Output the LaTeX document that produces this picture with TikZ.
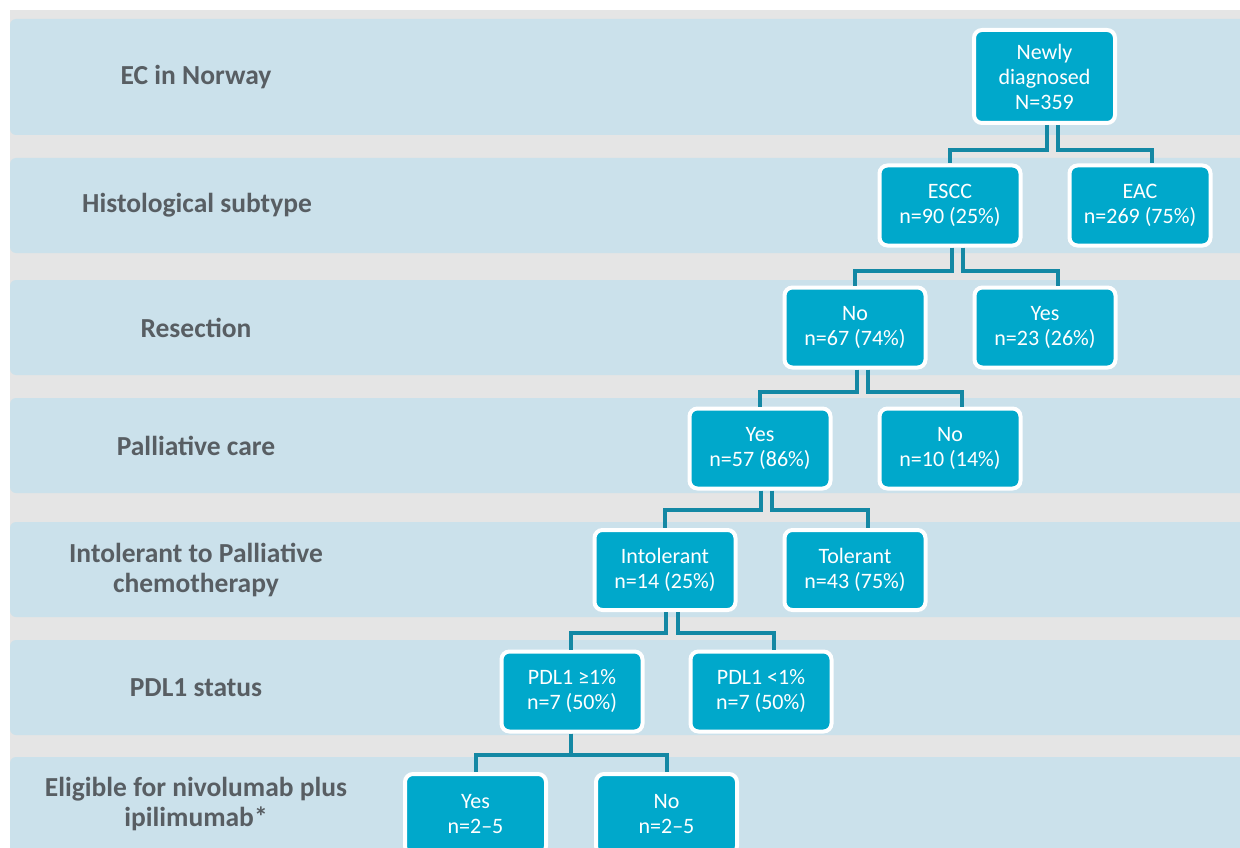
\documentclass[tikz,border=0pt]{standalone}
\usepackage{fontspec}
\setmainfont{Carlito}
\usetikzlibrary{calc}
\definecolor{rowblue}{RGB}{203,225,235}
\definecolor{bandgray}{RGB}{229,229,229}
\definecolor{boxteal}{RGB}{0,168,203}
\definecolor{linkteal}{RGB}{20,136,164}
\definecolor{labelgray}{RGB}{88,94,99}
\begin{document}
\begin{tikzpicture}[x=1pt,y=-1pt,
  row/.style={fill=rowblue, rounded corners=6pt},
  rowlabel/.style={text=labelgray, font=\fontsize{27.5}{30}\selectfont\bfseries, align=center},
  stagebox/.style={draw=white, line width=4pt, fill=boxteal, rounded corners=8pt,
    text=white, font=\fontsize{22}{25}\selectfont, align=center,
    minimum width=141pt, minimum height=80pt, inner sep=0pt},
  link/.style={draw=linkteal, line width=4pt}
]
\useasboundingbox (0,0) rectangle (1240,848);
\fill[white] (0,0) rectangle (1240,848);
\fill[bandgray] (10,10) rectangle (1240,848);

% one band per stage of the flow
\fill[row] (10,19)  rectangle (1262,135);
\fill[row] (10,158) rectangle (1262,253);
\fill[row] (10,280) rectangle (1262,375);
\fill[row] (10,398) rectangle (1262,493);
\fill[row] (10,522) rectangle (1262,617);
\fill[row] (10,640) rectangle (1262,735);
\fill[row] (10,757) rectangle (1262,880);

% stage names
\node[rowlabel] (lab1) at (196,77)    {EC in Norway};
\node[rowlabel] (lab2) at (197,205.5) {Histological subtype};
\node[rowlabel] (lab3) at (196,327.5) {Resection};
\node[rowlabel] (lab4) at (196,445.5) {Palliative care};
\node[rowlabel] (lab5) at (196,570)   {Intolerant to Palliative\\chemotherapy};
\node[rowlabel] (lab6) at (196,687.5) {PDL1 status};
\node[rowlabel] (lab7) at (196,804)   {Eligible for nivolumab plus\\ipilimumab*};

% patient groups
\node[stagebox, minimum height=93pt] (all) at (1044.5,76.5) {Newly\\diagnosed\\N=359};
\node[stagebox] (escc)   at (950,205.5)  {ESCC\\n=90 (25\%)};
\node[stagebox] (eac)    at (1140,205.5) {EAC\\n=269 (75\%)};
\node[stagebox] (resno)  at (855,327.5)  {No\\n=67 (74\%)};
\node[stagebox] (resyes) at (1045,327.5) {Yes\\n=23 (26\%)};
\node[stagebox] (palyes) at (760,448.5)  {Yes\\n=57 (86\%)};
\node[stagebox] (palno)  at (950,448.5)  {No\\n=10 (14\%)};
\node[stagebox] (intol)  at (665,570)    {Intolerant\\n=14 (25\%)};
\node[stagebox] (tol)    at (855,570)    {Tolerant\\n=43 (75\%)};
\node[stagebox] (pdlhi)  at (572,691.5)  {PDL1 ≥1\%\\n=7 (50\%)};
\node[stagebox] (pdllo)  at (761,691.5)  {PDL1 <1\%\\n=7 (50\%)};
\node[stagebox] (eliyes) at (475.5,814)  {Yes\\n=2–5};
\node[stagebox] (elino)  at (666.5,814)  {No\\n=2–5};

% elbow connectors, one per child
\draw[link] ([xshift=2.5pt]all.south) |- ($(escc.north)+(0,-13)$) -- (escc.north);
\draw[link] ([xshift=13.5pt]all.south) |- ($([xshift=12pt]eac.north)+(0,-13)$) -- ([xshift=12pt]eac.north);

\draw[link] ([xshift=2pt]escc.south) |- ($(resno.north)+(0,-15)$) -- (resno.north);
\draw[link] ([xshift=12.5pt]escc.south) |- ($([xshift=13pt]resyes.north)+(0,-15)$) -- ([xshift=13pt]resyes.north);

\draw[link] ([xshift=1.5pt]resno.south) |- ($(palyes.north)+(0,-15)$) -- (palyes.north);
\draw[link] ([xshift=13pt]resno.south) |- ($([xshift=12pt]palno.north)+(0,-15)$) -- ([xshift=12pt]palno.north);

\draw[link] ([xshift=0.5pt]palyes.south) |- ($(intol.north)+(0,-18)$) -- (intol.north);
\draw[link] ([xshift=12pt]palyes.south) |- ($([xshift=13pt]tol.north)+(0,-18)$) -- ([xshift=13pt]tol.north);

\draw[link] ([xshift=1pt]intol.south) |- ($([xshift=-1pt]pdlhi.north)+(0,-17)$) -- ([xshift=-1pt]pdlhi.north);
\draw[link] ([xshift=13pt]intol.south) |- ($([xshift=13pt]pdllo.north)+(0,-17)$) -- ([xshift=13pt]pdllo.north);

\draw[link] ([xshift=-1pt]pdlhi.south) |- ($(eliyes.north)+(0,-17)$) -- (eliyes.north);
\draw[link] ([xshift=-1pt]pdlhi.south) |- ($(elino.north)+(0,-17)$) -- (elino.north);
\end{tikzpicture}
\end{document}
